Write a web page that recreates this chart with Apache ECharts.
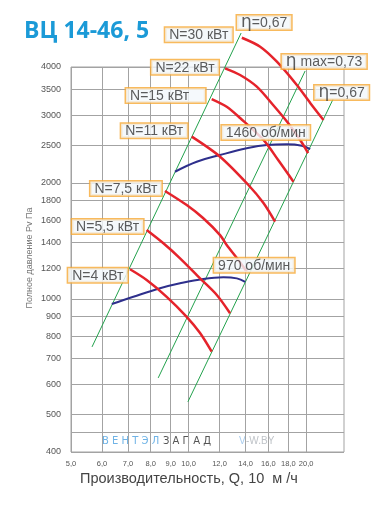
<!DOCTYPE html>
<html><head><meta charset="utf-8">
<script src="https://cdn.jsdelivr.net/npm/echarts@6/dist/echarts.min.js"></script>
<style>html,body{margin:0;padding:0;background:#fff}#c{width:378px;height:508px}</style>
</head><body><div id="c"></div>
<script>
// ---- data (Q in 10^3 m3/h, P in Pa) ----
const xTicks = [5, 6, 7, 8, 9, 10, 12, 14, 16, 18, 20];
const yTicks = [400, 500, 600, 700, 800, 900, 1000, 1200, 1400, 1600, 1800, 2000, 2500, 3000, 3500, 4000];
const yGridOnly = [450];
const xMin = 5, xMax = 25, yMin = 400, yMax = 4000;

const etaLeft  = [[5.66, 750], [13.63, 4901]];
const etaMax   = [[8.36, 623], [19.88, 3906]];
const etaRight = [[9.96, 540], [23.45, 3303]];

const n30  = [[13.69, 4765], [15.25, 4516], [16.83, 4128], [18.93, 3591], [20.48, 3226], [22.15, 2913]];
const n22  = [[12.40, 3969], [13.55, 3813], [14.95, 3556], [16.46, 3187], [17.98, 2861], [19.53, 2539], [20.23, 2391]];
const n15  = [[11.46, 3303], [12.52, 3154], [13.55, 2948], [15.55, 2586], [16.96, 2293], [18.56, 2014]];
const n11  = [[10.19, 2637], [12.04, 2339], [14.23, 1975], [15.55, 1773], [16.65, 1586]];
const n7_5 = [[8.70, 1906], [9.89, 1752], [10.89, 1621], [12.04, 1464], [12.52, 1379], [13.41, 1261], [14.09, 1176]];
const n5_5 = [[7.81, 1509], [8.62, 1394], [9.51, 1274], [10.70, 1130], [11.81, 1023], [12.77, 917]];
const n4   = [[7.08, 1193], [7.81, 1119], [8.79, 1012], [9.89, 898], [10.70, 815], [11.46, 729]];

const rpm1460 = [[9.23, 2138], [10.49, 2270], [12.04, 2363], [14.09, 2460], [15.86, 2509], [17.84, 2519], [19.50, 2498], [20.48, 2449]];
const rpm970  = [[6.36, 969], [7.22, 1012], [8.45, 1065], [9.51, 1097], [10.91, 1126], [12.28, 1137], [13.29, 1130], [13.96, 1107]];

// ---- build ----
const L = Math.log10;
const tr = arr => arr.map(p => [L(p[0]), L(p[1])]);

const RED = '#e5232b', GREEN = '#23a24d', BLUE = '#2e2f8c';
const lineS = (data, color, width, z, smooth) => ({
  type: 'line', data: tr(data), showSymbol: false, symbol: 'none', clip: false, z: z,
  smooth: smooth, lineStyle: { color: color, width: width }, silent: true, animation: false
});

const annotations = [
  { src: n30, idx: 0, text: 'N=30 кВт', pos: 'left', dist: 9, off: [0, -3] },
  { src: n22, idx: 0, text: 'N=22 кВт', pos: 'left', dist: 6, off: [0, -1] },
  { src: n15, idx: 0, text: 'N=15 кВт', pos: 'left', dist: 6, off: [0, -3.5], pad: [1, 16, 0, 4] },
  { src: n11, idx: 0, text: 'N=11 кВт', pos: 'left', dist: 4, off: [0, -6] },
  { src: n7_5, idx: 0, text: 'N=7,5 кВт', pos: 'left', dist: 3, off: [0, -2.5] },
  { src: n5_5, idx: 0, text: 'N=5,5 кВт', pos: 'left', dist: 3, off: [0, -3.5] },
  { src: n4, idx: 0, text: 'N=4 кВт', pos: 'left', dist: 2, off: [0, 6] },
  { src: rpm1460, idx: 4, text: '1460 об/мин', pos: 'top', dist: 5, off: [-1, 0] },
  { src: rpm970, idx: 7, text: '970 об/мин', pos: 'top', dist: 9, off: [9, 0] },
  { src: etaLeft, idx: 1, text: '{e|η}=0,67', pos: 'top', dist: 3, off: [23, 0] },
  { src: etaMax, idx: 1, text: '{e|η} max=0,73', pos: 'top', dist: 2, off: [19, 0] },
  { src: etaRight, idx: 1, text: '{e|η}=0,67', pos: 'top', dist: 0, off: [8.5, 1] }
];

const labelData = annotations.map(a => ({
  value: [L(a.src[a.idx][0]), L(a.src[a.idx][1])],
  label: {
    show: true, formatter: a.text, position: a.pos, distance: a.dist, offset: a.off,
    color: '#333', fontSize: 14, lineHeight: 13,
    fontFamily: '"Liberation Sans", Arial, sans-serif',
    backgroundColor: '#f3f7fb', borderColor: '#f6a935', borderWidth: 1.5,
    padding: a.pad || [1, 4, 0, 4],
    rich: { e: { fontSize: 17, lineHeight: 13, color: '#333', fontFamily: '"DejaVu Sans", sans-serif' } }
  }
}));

const chart = echarts.init(document.getElementById('c'), null, { renderer: 'canvas' });
const gridColor = '#a3a3a3';
chart.setOption({
  animation: false,
  backgroundColor: '#ffffff',
  grid: { left: 71, right: 34, top: 67, bottom: 56, show: true, borderColor: gridColor, borderWidth: 1, backgroundColor: 'transparent' },
  xAxis: {
    type: 'value', min: L(xMin), max: L(xMax),
    axisLine: { show: false },
    axisTick: { show: false, customValues: xTicks.map(L) },
    splitLine: { show: true, lineStyle: { color: gridColor, width: 1 } },
    axisLabel: {
      customValues: xTicks.map(L), margin: 8, fontSize: 7.5, color: '#555',
      fontFamily: '"Liberation Sans", Arial, sans-serif',
      formatter: v => (Math.round(Math.pow(10, v) * 10) / 10).toFixed(1).replace('.', ',')
    }
  },
  yAxis: {
    type: 'value', min: L(yMin), max: L(yMax),
    axisLine: { show: false },
    axisTick: { show: false, customValues: yTicks.concat(yGridOnly).sort((a, b) => a - b).map(L) },
    splitLine: { show: true, lineStyle: { color: gridColor, width: 1 } },
    axisLabel: {
      customValues: yTicks.map(L), margin: 10, fontSize: 9, color: '#555',
      fontFamily: '"Liberation Sans", Arial, sans-serif',
      formatter: v => String(Math.round(Math.pow(10, v)))
    }
  },
  graphic: [
    { type: 'text', left: 24, top: 20, style: { text: 'ВЦ 14-46, 5', fill: '#1b9ad7', font: 'bold 23px "Open Sans", Arial, sans-serif' } },
    { type: 'text', x: 30, y: 258, rotation: Math.PI / 2, style: { text: 'Полное давление Pv Па', fill: '#777', font: '9px "Liberation Sans", Arial, sans-serif', align: 'center', verticalAlign: 'middle' } },
    { type: 'text', left: 80, top: 471, style: { text: 'Производительность, Q, 10  м /ч', fill: '#444', font: '14.5px "Liberation Sans", Arial, sans-serif' } },
    { type: 'text', left: 102, top: 436, style: { text: 'В Е Н Т Э Л', fill: '#6fb3e6', font: '10px "DejaVu Sans", sans-serif' } },
    { type: 'text', left: 163, top: 436, style: { text: 'З А П А Д', fill: '#555', font: '10px "DejaVu Sans", sans-serif' } },
    { type: 'text', left: 239, top: 436, style: { text: 'V', fill: '#a9cdee', font: '10px "Liberation Sans", Arial, sans-serif' } },
    { type: 'text', left: 246, top: 436, style: { text: '-W.BY', fill: '#bfc3c8', font: '10px "Liberation Sans", Arial, sans-serif' } }
  ],
  series: [
    lineS(etaLeft, GREEN, 1, 2, false),
    lineS(etaMax, GREEN, 1, 2, false),
    lineS(etaRight, GREEN, 1, 2, false),
    lineS(rpm1460, BLUE, 2, 3, 0.4),
    lineS(rpm970, BLUE, 2, 3, 0.4),
    lineS(n30, RED, 2.5, 4, 0.3),
    lineS(n22, RED, 2.5, 4, 0.3),
    lineS(n15, RED, 2.5, 4, 0.3),
    lineS(n11, RED, 2.5, 4, 0.3),
    lineS(n7_5, RED, 2.5, 4, 0.3),
    lineS(n5_5, RED, 2.5, 4, 0.3),
    lineS(n4, RED, 2.5, 4, 0.3),
    { type: 'scatter', data: labelData, symbolSize: 1, itemStyle: { color: 'rgba(0,0,0,0)' }, clip: false, z: 10, silent: true, animation: false }
  ]
});
</script>
</body></html>
